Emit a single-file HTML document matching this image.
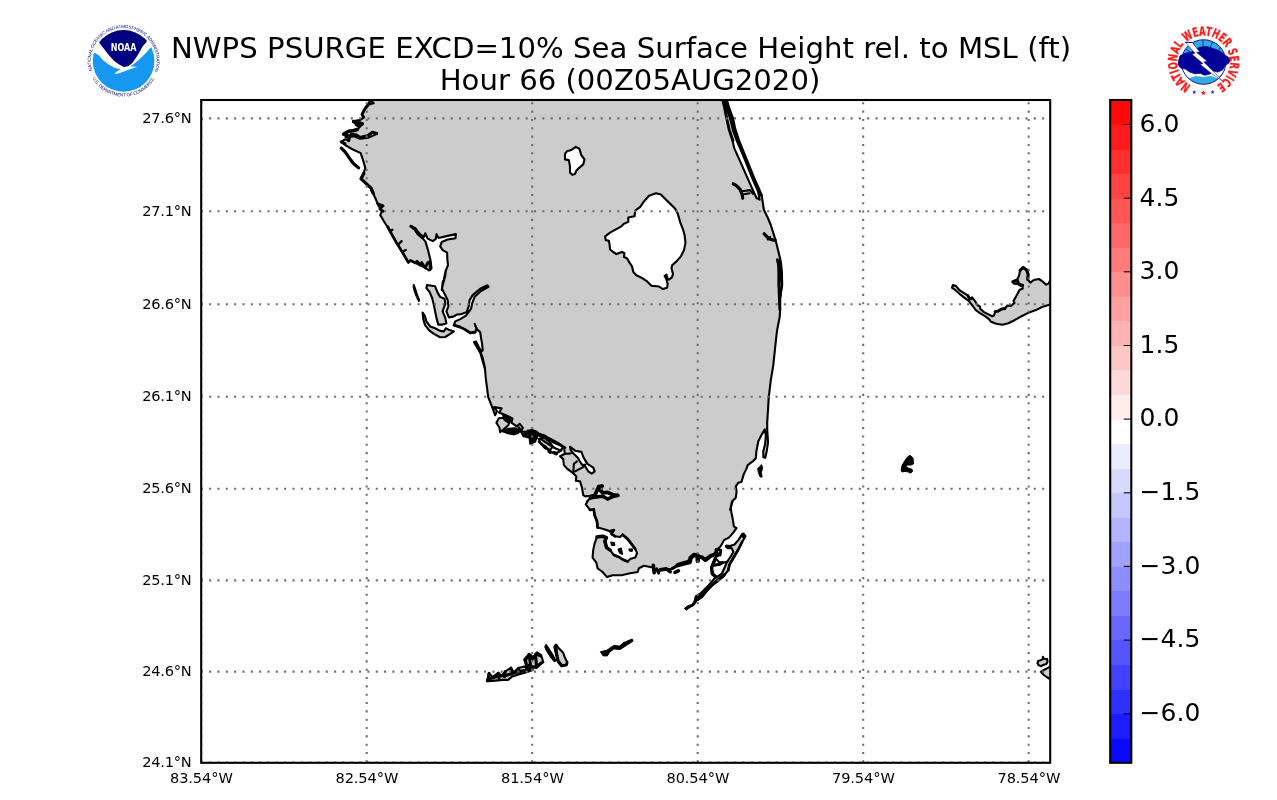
<!DOCTYPE html>
<html><head><meta charset="utf-8"><title>NWPS PSURGE EXCD=10% Sea Surface Height</title>
<style>
html,body{margin:0;padding:0;background:#fff;}
body{width:1277px;height:800px;overflow:hidden;position:relative;font-family:"DejaVu Sans","Liberation Sans",sans-serif;}
svg{position:absolute;left:0;top:0;display:block;will-change:transform;transform:translateZ(0)}
text{font-family:"DejaVu Sans","Liberation Sans",sans-serif;fill:#000}
.t{font-size:29.17px;text-anchor:middle}
.yl{font-size:14.58px;text-anchor:end}
.xl{font-size:14.58px;text-anchor:middle}
.cl{font-size:25px;text-anchor:start}
.g{stroke:#6e6e6e;stroke-width:2.08;stroke-dasharray:2.08 6.25;fill:none}
</style></head><body>
<svg width="1277" height="800" viewBox="0 0 1277 800">
<rect x="0" y="0" width="1277" height="800" fill="#fff"/>
<g clip-path="url(#axclip)"><path d="M370.1 95.0 370.1 99.3 373.6 103.3 368.9 104.5 364.9 109.3 362.0 114.3 364.1 117.4 360.3 119.9 353.2 121.2 356.3 124.9 362.6 123.7 357.6 129.3 350.1 130.8 342.8 134.3 349.4 135.6 356.3 135.2 360.1 137.6 367.6 135.8 372.6 132.1 377.0 133.5 373.2 135.6 368.2 137.8 360.1 138.8 353.8 136.2 349.8 137.1 349.1 140.9 345.1 139.3 341.0 141.9 345.1 145.0 351.3 148.7 360.7 153.1 363.2 160.6 365.4 168.2 363.2 173.8 360.7 178.8 365.7 183.2 371.4 188.2 374.1 194.5 371.3 190.6 375.1 197.5 378.8 206.3 382.0 210.7 380.3 215.1 383.9 221.3 390.1 231.3 396.4 242.6 402.6 252.6 408.3 262.4 410.4 260.4 415.2 262.9 420.2 265.2 425.2 267.9 429.0 270.4 431.5 268.3 430.5 260.2 428.0 250.1 425.5 241.6 422.7 238.4 417.7 233.9 414.2 229.1 410.9 226.3 415.2 228.2 420.2 234.5 424.2 236.6 425.2 233.2 427.7 238.6 432.7 241.1 435.8 238.9 436.5 234.1 438.4 237.9 446.5 236.1 455.9 234.1 455.5 238.2 447.8 239.5 441.7 242.0 440.2 246.4 442.7 250.1 447.1 252.6 447.4 260.2 448.0 265.2 446.0 270.2 444.7 277.7 442.7 285.2 441.7 290.0 445.8 270.0 445.2 276.3 442.6 282.5 442.0 288.8 445.2 295.1 447.7 300.1 448.4 306.3 446.4 311.3 448.9 317.4 453.3 316.6 457.1 314.5 461.4 314.1 466.5 312.3 468.7 306.3 469.6 300.1 472.7 295.1 480.2 288.8 487.5 285.3 488.5 286.8 481.0 291.0 474.6 296.8 472.2 303.3 471.1 308.6 467.7 313.4 466.0 315.6 460.2 319.1 455.2 321.4 453.9 325.1 460.2 327.1 465.2 329.6 470.2 332.9 475.2 332.1 476.5 328.9 474.7 323.9 477.2 329.6 480.2 332.1 481.0 337.7 482.1 343.9 482.7 350.2 481.5 351.4 479.0 347.7 476.0 341.4 474.0 342.2 476.5 346.4 480.2 352.7 483.4 361.5 485.2 370.0 479.5 350.0 482.6 357.5 484.9 367.5 485.7 377.6 487.0 387.6 488.2 397.0 491.4 405.1 495.1 415.2 497.0 411.4 494.1 407.1 501.6 408.4 499.1 412.6 505.8 415.2 512.4 418.4 511.4 422.7 516.7 426.4 519.7 423.9 522.9 427.9 520.4 431.7 527.7 431.7 531.5 429.7 536.7 431.7 540.2 436.5 544.2 435.2 550.5 439.6 558.0 443.3 565.3 447.7 527.5 430.6 535.0 431.9 542.6 435.0 550.1 438.8 557.6 442.6 563.9 446.9 564.9 453.8 560.1 456.3 563.2 459.1 563.9 465.1 567.6 469.1 573.2 473.2 576.4 476.4 575.8 480.8 580.1 481.4 582.0 487.7 583.3 495.2 585.2 496.4 590.2 495.8 595.2 494.5 597.1 490.2 598.3 486.4 602.1 485.8 600.2 490.2 602.7 492.7 607.7 492.0 612.7 494.5 617.7 495.4 612.7 497.1 607.7 499.6 602.7 496.4 597.7 497.1 590.2 498.3 587.0 501.4 588.2 500.0 585.7 504.4 590.1 510.0 593.8 509.4 594.5 515.0 597.0 521.3 597.6 527.6 602.6 528.8 610.1 531.3 613.9 530.1 611.4 533.8 615.1 536.3 620.1 537.0 622.6 534.5 627.7 538.8 631.4 543.9 635.2 548.9 637.1 553.2 635.2 557.6 630.2 558.9 627.7 561.4 622.6 559.5 618.9 557.0 613.9 555.1 610.1 550.1 606.4 547.6 604.5 541.3 606.4 537.6 602.6 536.3 597.0 537.0 594.5 543.9 593.2 550.1 592.6 557.6 596.3 562.6 597.6 568.3 602.6 572.0 607.0 577.1 612.6 575.2 621.4 575.2 630.2 573.3 637.7 572.0 638.9 568.3 643.9 565.8 650.2 567.0 653.7 567.7 655.2 570.2 660.2 569.9 666.5 569.2 671.5 568.7 677.8 565.2 685.3 563.0 690.3 558.9 694.1 554.9 697.8 555.8 701.6 557.0 705.3 558.9 710.4 555.8 715.1 553.9 715.8 549.5 718.9 548.2 721.4 545.1 723.9 540.1 728.9 537.6 733.3 532.6 736.4 528.2 733.9 526.3 732.7 518.8 731.4 512.5 730.8 507.5 732.7 501.3 730.1 510.0 732.0 501.5 735.8 497.7 736.6 491.4 735.8 486.4 738.3 482.7 741.4 482.0 743.9 473.9 746.4 468.9 747.7 465.1 752.7 461.4 755.8 458.2 756.4 451.3 758.3 441.3 761.4 435.1 764.9 429.4 765.8 435.1 765.2 443.8 763.3 451.3 763.3 457.0 765.2 457.9 766.7 451.3 768.0 442.6 767.2 428.8 767.2 422.5 768.0 410.0 768.0 410.0 768.7 397.7 770.8 380.2 773.3 365.1 774.6 352.6 775.8 341.3 777.1 330.0 779.6 317.5 780.2 310.0 780.2 310.0 780.2 297.7 782.2 285.2 781.9 272.6 781.0 262.6 779.0 253.9 776.5 243.8 774.0 235.1 770.8 225.0 767.7 217.5 763.9 210.0 761.7 195.7 758.0 188.2 753.0 176.9 748.0 164.4 742.9 151.9 737.9 139.3 734.2 128.1 732.3 118.0 728.5 108.0 726.0 99.3 726.0 95.0Z" fill="#ccc" stroke="#000" stroke-width="2.1" stroke-linejoin="round"/>
<path d="M427.0 285.0 435.1 286.3 437.6 292.6 440.1 296.9 444.5 298.8 445.4 303.8 443.9 307.6 442.6 311.3 445.2 317.6 446.4 323.2 442.6 324.6 438.3 324.6 436.4 317.6 435.1 311.3 433.9 305.1 432.0 297.6 429.5 291.9 426.4 288.2Z" fill="#ccc" stroke="#000" stroke-width="2.1" stroke-linejoin="round"/>
<path d="M413.8 284.0 415.3 287.5 417.2 293.8 419.7 300.1 418.8 301.8 416.6 297.6 414.2 291.3 413.0 286.3Z" fill="#000" stroke="#000" stroke-width="1.0" stroke-linejoin="round"/>
<path d="M422.6 312.6 425.1 316.4 426.4 321.4 430.1 326.4 435.1 328.3 440.1 330.9 443.9 331.4 445.8 328.3 449.5 330.1 453.9 331.4 450.2 333.9 445.2 337.0 440.1 337.2 433.9 333.9 428.9 330.1 425.1 325.1 423.2 318.9Z" fill="#ccc" stroke="#000" stroke-width="2.1" stroke-linejoin="round"/>
<path d="M498.9 418.3 505.2 417.7 510.2 420.2 508.3 425.2 502.6 430.2 500.1 432.1 499.5 427.7 496.4 422.7Z" fill="#ccc" stroke="#000" stroke-width="2.1" stroke-linejoin="round"/>
<path d="M501.4 431.4 507.7 428.3 515.2 427.7 520.2 430.2 518.9 433.3 513.9 434.9 507.7 433.7Z" fill="#000" stroke="#000" stroke-width="1.0" stroke-linejoin="round"/>
<path d="M502.6 415.2 508.9 416.4 511.4 421.4 507.7 422.7 503.9 420.2Z" fill="#000" stroke="#000" stroke-width="1.0" stroke-linejoin="round"/>
<path d="M522.7 433.9 527.7 432.7 532.7 433.3 537.1 435.2 535.2 441.5 530.2 443.7 529.6 437.7 525.2 436.5Z" fill="#ccc" stroke="#000" stroke-width="2.1" stroke-linejoin="round"/>
<path d="M539.0 439.0 544.0 437.7 549.0 441.5 552.8 446.5 550.3 450.0 545.2 447.7 540.2 443.3Z" fill="#ccc" stroke="#000" stroke-width="2.1" stroke-linejoin="round"/>
<path d="M526.9 431.0 536.3 432.5 537.5 438.8 532.5 443.2 529.8 438.8 527.5 435.0Z" fill="#000" stroke="#000" stroke-width="1.0" stroke-linejoin="round"/>
<path d="M610.7 542.0 614.5 542.6 614.9 545.4 611.6 545.7Z" fill="#000" stroke="#000" stroke-width="1.0" stroke-linejoin="round"/>
<path d="M617.9 549.1 621.4 547.9 622.6 554.5 619.5 553.2Z" fill="#000" stroke="#000" stroke-width="1.0" stroke-linejoin="round"/>
<path d="M628.9 548.9 632.7 548.9 632.2 551.4 629.3 551.1Z" fill="#000" stroke="#000" stroke-width="1.0" stroke-linejoin="round"/>
<path d="M743.3 533.6 745.5 536.3 742.1 542.0 738.3 549.5 733.9 557.0 729.5 564.5 728.3 570.2 723.3 576.7 718.3 580.8 713.2 584.6 707.0 590.8 702.0 597.1 697.6 600.0 695.7 596.5 700.7 593.3 707.0 587.1 712.0 581.4 715.1 577.7 718.9 575.8 722.0 573.3 724.5 567.7 727.0 562.0 730.8 556.4 733.3 552.0 731.7 548.2 727.7 548.2 726.4 545.7 730.2 546.1 734.5 544.5 738.3 540.1 740.8 536.3Z" fill="#ccc" stroke="#000" stroke-width="2.1" stroke-linejoin="round"/>
<path d="M761.4 464.5 762.7 467.6 761.4 472.6 762.1 477.0 760.2 477.0 758.3 472.6 757.7 468.3 760.2 466.4Z" fill="#000" stroke="#000" stroke-width="1.0" stroke-linejoin="round"/>
<path d="M1055.2 279.5 1050.1 280.5 1048.6 283.6 1046.1 284.6 1042.0 281.0 1038.9 279.0 1033.8 280.0 1030.3 282.6 1027.7 279.5 1028.2 274.4 1026.7 269.9 1023.1 267.3 1020.1 270.4 1019.1 275.5 1017.0 280.0 1013.0 281.6 1014.0 283.6 1018.6 284.1 1020.1 285.6 1022.6 285.1 1022.6 288.7 1019.6 289.7 1017.5 293.8 1015.0 298.4 1013.5 300.9 1014.5 302.9 1010.9 306.0 1007.4 305.5 1004.8 308.5 1001.3 309.0 998.2 311.1 995.2 311.6 994.1 315.2 992.1 316.2 988.0 314.1 984.0 312.1 980.4 309.0 979.9 306.5 977.3 305.0 974.8 300.9 972.2 297.8 969.7 298.9 967.7 295.3 963.6 292.8 959.5 290.2 956.0 286.1 952.9 285.1 951.9 287.7 955.5 290.2 959.5 293.8 964.6 297.8 968.7 300.9 972.8 306.0 975.8 310.1 979.9 313.1 985.0 316.2 989.0 319.2 991.1 321.8 996.2 323.8 1002.3 324.8 1008.4 323.3 1014.5 320.2 1021.6 316.2 1027.7 313.1 1035.9 310.1 1042.0 307.0 1050.1 304.5 1055.2 303.4Z" fill="#ccc" stroke="#000" stroke-width="2.1" stroke-linejoin="round"/>
<path d="M910.0 455.3 913.0 458.1 913.6 463.8 911.2 465.0 907.5 465.1 905.8 466.2 908.1 468.0 911.9 469.2 912.6 471.2 910.6 473.2 908.1 471.9 905.0 471.4 902.0 472.0 901.1 470.0 902.0 465.6 904.5 461.2 907.0 457.5Z" fill="#000" stroke="#000" stroke-width="1.0" stroke-linejoin="round"/>
<path d="M1043.0 656.8 1043.8 658.8 1047.2 659.1 1047.5 661.9 1046.2 664.1 1043.1 665.0 1041.2 666.2 1038.8 665.3 1037.5 663.4 1038.1 660.9 1040.6 660.3 1042.5 659.4Z" fill="#ccc" stroke="#000" stroke-width="2.1" stroke-linejoin="round"/>
<path d="M1052.5 665.3 1047.5 668.1 1043.8 670.0 1040.9 671.9 1043.8 675.0 1047.5 677.5 1052.5 680.6Z" fill="#ccc" stroke="#000" stroke-width="2.1" stroke-linejoin="round"/>
<path d="M486.9 681.3 489.0 672.9 492.6 677.1 498.2 672.9 501.7 675.7 505.2 671.4 510.9 667.9 513.7 672.2 518.6 667.9 524.3 666.5 527.8 668.6 532.0 666.5 532.7 670.0 526.4 672.2 519.3 674.3 512.3 676.4 508.1 679.9 502.4 679.9 495.4 680.6Z" fill="#ccc" stroke="#000" stroke-width="2.1" stroke-linejoin="round"/>
<path d="M524.3 659.5 529.2 653.8 533.4 657.4 537.0 652.4 541.2 655.2 543.3 662.3 540.5 663.7 536.2 667.9 532.0 666.5 526.4 665.1Z" fill="#ccc" stroke="#000" stroke-width="2.1" stroke-linejoin="round"/>
<path d="M546.1 644.2 548.9 648.2 552.5 653.8 556.3 660.9 554.0 661.7 549.6 655.9 546.1 650.3 544.7 646.8Z" fill="#000" stroke="#000" stroke-width="1.0" stroke-linejoin="round"/>
<path d="M556.0 644.7 558.8 648.2 563.0 652.4 565.1 658.1 567.3 662.3 566.6 665.1 561.6 666.2 558.1 662.3 556.7 656.6 555.3 651.0 554.3 646.8Z" fill="#ccc" stroke="#000" stroke-width="2.1" stroke-linejoin="round"/>
<path d="M600.4 651.7 606.7 650.3 613.8 645.4 619.4 646.1 623.6 642.6 632.1 639.0 633.1 641.1 626.5 645.4 620.1 649.6 613.8 648.9 609.5 652.4 607.4 655.9 603.2 655.9Z" fill="#000" stroke="#000" stroke-width="1.0" stroke-linejoin="round"/>
<path d="M697.5 595.0 701.2 593.1 700.6 597.5 697.5 600.0 695.6 603.1 693.8 605.6 690.0 607.5 686.2 610.2 684.5 608.2 688.1 605.6 691.9 604.4 694.0 601.2 695.2 596.9Z" fill="#000" stroke="#000" stroke-width="1.0" stroke-linejoin="round"/>
<path d="M570.1 446.9 575.1 450.7 581.4 451.9 583.6 457.6 587.4 463.9 593.3 467.6 594.7 471.4 591.7 473.6 588.4 471.5 585.3 466.5 581.5 464.0 577.8 457.7 572.7 452.7 570.7 450.1Z" fill="#fff" stroke="#000" stroke-width="2.1" stroke-linejoin="round"/>
<path d="M722.4 99.9 724.3 108.0 726.2 118.0 728.7 129.3 732.4 140.6 734.2 148.1 738.7 158.1 743.7 169.4 749.2 181.9 753.7 192.0 756.5 198.0 759.6 199.7 758.0 191.3 752.7 179.4 747.7 166.9 742.7 154.4 737.2 141.9 732.9 130.6 730.4 119.9 727.0 109.3 724.4 99.9Z" fill="#fff" stroke="#000" stroke-width="2.1" stroke-linejoin="round"/>
<path d="M575.7 146.9 579.4 148.8 581.3 155.1 584.5 159.4 583.2 164.5 579.4 167.6 576.3 170.7 575.1 173.9 572.6 174.9 570.0 172.6 570.0 166.3 568.8 160.1 565.0 159.4 565.0 153.8 566.9 151.3 571.3 150.0Z" fill="#fff" stroke="#000" stroke-width="2.1" stroke-linejoin="round"/>
<path d="M640.2 206.9 635.2 210.6 634.5 216.3 628.3 217.5 628.3 221.9 623.9 223.8 621.4 226.3 614.5 230.1 610.1 232.6 605.1 236.3 605.7 240.1 608.8 240.7 609.5 243.9 610.1 249.5 613.2 252.0 616.4 254.1 622.0 252.0 624.5 253.2 623.9 257.0 627.0 258.3 629.5 262.6 632.0 266.4 633.3 272.0 636.4 275.2 641.4 277.7 646.4 280.8 651.4 285.8 659.0 286.5 662.7 289.0 667.1 287.7 667.7 283.9 666.2 278.9 664.6 275.8 666.5 274.5 667.5 278.3 669.0 279.6 672.1 277.1 673.0 273.9 671.5 268.3 672.1 265.2 676.5 261.4 680.9 256.4 684.0 250.1 685.5 242.6 684.6 235.1 682.8 228.8 680.3 222.6 677.8 213.8 675.2 208.8 670.2 203.8 665.3 198.9 660.9 194.5 655.9 193.3 649.0 195.8 644.0 201.4Z" fill="#fff" stroke="#000" stroke-width="2.1" stroke-linejoin="round"/>
<path d="M573.2 473.2 573.9 463.9 577.0 461.3" fill="none" stroke="#000" stroke-width="2.1" stroke-linejoin="round" stroke-linecap="round"/>
<path d="M575.1 471.4 582.6 467.4 585.2 464.5" fill="none" stroke="#000" stroke-width="2.1" stroke-linejoin="round" stroke-linecap="round"/>
<path d="M564.9 453.8 570.1 453.6 572.6 452.6" fill="none" stroke="#000" stroke-width="2.1" stroke-linejoin="round" stroke-linecap="round"/>
<path d="M715.1 557.6 718.9 562.0 723.9 562.6 727.7 561.4" fill="none" stroke="#000" stroke-width="2.1" stroke-linejoin="round" stroke-linecap="round"/>
<path d="M715.1 558.9 711.4 567.7 712.0 573.9 715.8 576.7" fill="none" stroke="#000" stroke-width="2.1" stroke-linejoin="round" stroke-linecap="round"/>
<path d="M713.2 565.2 720.1 564.2 722.6 562.6" fill="none" stroke="#000" stroke-width="2.1" stroke-linejoin="round" stroke-linecap="round"/>
<path d="M715.8 549.5 718.9 555.1 715.1 557.6" fill="none" stroke="#000" stroke-width="2.1" stroke-linejoin="round" stroke-linecap="round"/>
<path d="M775.2 240.1 772.1 239.8 769.0 238.8 764.2 233.8" fill="none" stroke="#000" stroke-width="2.1" stroke-linejoin="round" stroke-linecap="round"/>
<path d="M770.2 236.9 767.7 239.4" fill="none" stroke="#000" stroke-width="2.1" stroke-linejoin="round" stroke-linecap="round"/>
<path d="M777.1 259.5 778.4 266.4 778.5 272.6 778.5 285.2 779.0 297.7 779.6 310.0" fill="none" stroke="#000" stroke-width="2.1" stroke-linejoin="round" stroke-linecap="round"/>
<path d="M779.6 260.1 780.2 270.1 780.2 280.2" fill="none" stroke="#000" stroke-width="2.1" stroke-linejoin="round" stroke-linecap="round"/>
<path d="M733.3 183.8 736.4 185.7 740.2 189.5 742.1 194.5 742.7 198.0" fill="none" stroke="#000" stroke-width="2.1" stroke-linejoin="round" stroke-linecap="round"/>
<path d="M742.1 191.3 750.2 190.1 753.0 193.8" fill="none" stroke="#000" stroke-width="2.1" stroke-linejoin="round" stroke-linecap="round"/>
<path d="M742.7 194.5 749.6 193.2" fill="none" stroke="#000" stroke-width="2.1" stroke-linejoin="round" stroke-linecap="round"/>
<path d="M518.7 427.5 521.3 431.3 523.8 436.0 527.5 433.8" fill="none" stroke="#000" stroke-width="2.7" stroke-linejoin="round" stroke-linecap="round"/>
<path d="M538.8 441.6 545.1 446.9 550.1 451.6 555.7 453.6 560.7 450.7 563.2 446.9" fill="none" stroke="#000" stroke-width="2.3" stroke-linejoin="round" stroke-linecap="round"/>
<path d="M540.7 438.8 547.6 443.6 555.1 448.2 561.3 450.7" fill="none" stroke="#000" stroke-width="2.2" stroke-linejoin="round" stroke-linecap="round"/>
<path d="M544.4 446.6 545.7 447.8" fill="none" stroke="#000" stroke-width="3.6" stroke-linejoin="round" stroke-linecap="round"/>
<path d="M549.1 451.1 550.3 452.1" fill="none" stroke="#000" stroke-width="3.6" stroke-linejoin="round" stroke-linecap="round"/>
<path d="M554.5 452.8 556.3 453.6" fill="none" stroke="#000" stroke-width="3.6" stroke-linejoin="round" stroke-linecap="round"/>
<path d="M370.7 100.8 368.2 104.3 364.5 109.3 362.0 114.3 363.2 116.8" fill="none" stroke="#000" stroke-width="2.9" stroke-linejoin="round" stroke-linecap="round"/>
<path d="M353.6 121.6 357.6 122.4 362.3 123.7 359.1 125.8 356.6 124.6" fill="none" stroke="#000" stroke-width="3.6" stroke-linejoin="round" stroke-linecap="round"/>
<path d="M343.8 134.1 348.6 131.3 353.2 130.8 357.3 129.6" fill="none" stroke="#000" stroke-width="3.6" stroke-linejoin="round" stroke-linecap="round"/>
<path d="M351.3 134.3 356.6 135.2 360.1 137.6 367.6 135.8 372.6 132.3 376.6 133.5" fill="none" stroke="#000" stroke-width="3.2" stroke-linejoin="round" stroke-linecap="round"/>
<path d="M341.3 148.1 345.1 151.9 349.4 158.1 353.2 163.2 358.6 167.9" fill="none" stroke="#000" stroke-width="3.2" stroke-linejoin="round" stroke-linecap="round"/>
<path d="M363.9 173.2 361.1 178.8 365.7 183.2 371.1 188.2 372.9 192.6" fill="none" stroke="#000" stroke-width="3.2" stroke-linejoin="round" stroke-linecap="round"/>
<path d="M345.7 136.8 349.1 138.1 348.6 140.9" fill="none" stroke="#000" stroke-width="2.7" stroke-linejoin="round" stroke-linecap="round"/>
<path d="M341.0 141.9 345.1 143.4" fill="none" stroke="#000" stroke-width="2.7" stroke-linejoin="round" stroke-linecap="round"/>
<path d="M377.6 203.8 383.2 205.7 379.8 208.8 383.2 211.3" fill="none" stroke="#000" stroke-width="2.7" stroke-linejoin="round" stroke-linecap="round"/>
<path d="M387.6 226.3 390.1 231.3 396.4 242.6 402.6 252.6 408.3 262.4" fill="none" stroke="#000" stroke-width="2.7" stroke-linejoin="round" stroke-linecap="round"/>
<path d="M390.1 231.3 392.4 229.8" fill="none" stroke="#000" stroke-width="2.3" stroke-linejoin="round" stroke-linecap="round"/>
<path d="M398.9 243.9 401.6 241.1" fill="none" stroke="#000" stroke-width="2.3" stroke-linejoin="round" stroke-linecap="round"/>
<path d="M402.6 252.0 405.8 249.9" fill="none" stroke="#000" stroke-width="2.3" stroke-linejoin="round" stroke-linecap="round"/>
<path d="M408.7 262.0 410.4 260.4 415.2 262.9 417.1 261.2 420.2 265.2 421.7 262.4 425.2 267.9 427.7 262.7 429.7 261.7 430.2 269.7" fill="none" stroke="#000" stroke-width="2.7" stroke-linejoin="round" stroke-linecap="round"/>
<path d="M410.9 226.3 415.2 229.1 418.3 234.1 422.7 237.6" fill="none" stroke="#000" stroke-width="3.1" stroke-linejoin="round" stroke-linecap="round"/>
<path d="M653.3 565.4 654.2 572.7" fill="none" stroke="#000" stroke-width="3.6" stroke-linejoin="round" stroke-linecap="round"/>
<path d="M656.7 568.9 658.7 573.2" fill="none" stroke="#000" stroke-width="3.1" stroke-linejoin="round" stroke-linecap="round"/>
<path d="M660.2 569.9 666.5 568.9 670.3 571.7" fill="none" stroke="#000" stroke-width="3.6" stroke-linejoin="round" stroke-linecap="round"/>
<path d="M672.1 568.7 677.8 565.2" fill="none" stroke="#000" stroke-width="3.1" stroke-linejoin="round" stroke-linecap="round"/>
<path d="M675.0 572.4 678.4 570.9" fill="none" stroke="#000" stroke-width="3.6" stroke-linejoin="round" stroke-linecap="round"/>
<path d="M677.8 565.2 685.3 563.0 689.7 562.0 690.6 557.9 694.1 554.9 697.6 555.4 697.8 560.8" fill="none" stroke="#000" stroke-width="4.5" stroke-linejoin="round" stroke-linecap="round"/>
<path d="M697.8 556.4 702.2 557.4 705.3 560.1 710.4 556.1 715.4 554.1" fill="none" stroke="#000" stroke-width="4.0" stroke-linejoin="round" stroke-linecap="round"/>
<path d="M590.1 510.0 593.8 509.4 594.5 515.0 597.0 521.3 597.6 527.6" fill="none" stroke="#000" stroke-width="2.7" stroke-linejoin="round" stroke-linecap="round"/>
<path d="M610.1 531.3 613.9 530.1 611.4 533.8 615.1 536.3" fill="none" stroke="#000" stroke-width="2.7" stroke-linejoin="round" stroke-linecap="round"/>
<path d="M597.0 537.0 602.6 536.3 606.4 537.6 604.9 541.3 606.6 547.6 610.1 550.1" fill="none" stroke="#000" stroke-width="3.6" stroke-linejoin="round" stroke-linecap="round"/>
<path d="M622.6 534.8 627.7 539.1 631.4 543.9 635.2 548.9" fill="none" stroke="#000" stroke-width="2.7" stroke-linejoin="round" stroke-linecap="round"/>
<path d="M613.9 555.1 618.9 557.0 622.6 559.5 627.7 561.4" fill="none" stroke="#000" stroke-width="2.7" stroke-linejoin="round" stroke-linecap="round"/>
<path d="M595.2 494.8 597.1 490.2 598.7 486.7 602.1 486.0 600.2 490.2 602.7 492.9 607.7 492.4 612.7 494.8 617.7 495.4" fill="none" stroke="#000" stroke-width="3.8" stroke-linejoin="round" stroke-linecap="round"/>
<path d="M617.7 495.4 612.7 496.7 607.7 498.9 602.9 496.2 597.7 496.7 590.2 498.2" fill="none" stroke="#000" stroke-width="3.4" stroke-linejoin="round" stroke-linecap="round"/>
<path d="M453.9 325.1 460.2 327.1 465.2 329.6 470.2 332.9 475.2 332.1" fill="none" stroke="#000" stroke-width="2.7" stroke-linejoin="round" stroke-linecap="round"/>
<path d="M724.5 574.5 718.9 578.9 713.2 583.7 707.0 590.0 702.0 595.8 697.6 599.2" fill="none" stroke="#000" stroke-width="2.9" stroke-linejoin="round" stroke-linecap="round"/>
<path d="M742.7 535.1 743.9 536.1" fill="none" stroke="#000" stroke-width="4.5" stroke-linejoin="round" stroke-linecap="round"/>
<path d="M715.1 558.9 711.6 567.7 712.4 573.9 715.8 576.7" fill="none" stroke="#000" stroke-width="3.4" stroke-linejoin="round" stroke-linecap="round"/>
<path d="M713.2 565.2 720.1 564.2 722.6 562.6" fill="none" stroke="#000" stroke-width="2.9" stroke-linejoin="round" stroke-linecap="round"/>
<path d="M716.4 549.5 720.8 550.1 720.1 555.1 716.4 555.1" fill="none" stroke="#000" stroke-width="2.9" stroke-linejoin="round" stroke-linecap="round"/>
<path d="M742.1 542.0 738.3 549.5 733.9 557.0 729.5 564.5 728.3 570.2" fill="none" stroke="#000" stroke-width="2.7" stroke-linejoin="round" stroke-linecap="round"/>
<path d="M726.4 546.4 730.2 546.6" fill="none" stroke="#000" stroke-width="3.1" stroke-linejoin="round" stroke-linecap="round"/>
<path d="M726.4 99.9 728.9 108.6 732.7 118.7 734.7 128.7 738.4 140.0 743.4 152.5 748.5 165.0 753.5 177.6 758.5 188.8 761.2 195.1" fill="none" stroke="#000" stroke-width="3.1" stroke-linejoin="round" stroke-linecap="round"/>
<path d="M733.3 183.8 736.4 185.7 740.2 189.5 742.1 194.5 742.7 198.2" fill="none" stroke="#000" stroke-width="3.2" stroke-linejoin="round" stroke-linecap="round"/>
<path d="M723.3 100.5 725.2 108.0 727.0 118.0 729.5 129.3 733.3 140.6" fill="none" stroke="#000" stroke-width="2.3" stroke-linejoin="round" stroke-linecap="round"/>
<path d="M775.2 240.1 772.1 239.8 769.0 238.8 764.2 233.8" fill="none" stroke="#000" stroke-width="3.2" stroke-linejoin="round" stroke-linecap="round"/>
<path d="M777.5 259.5 778.7 266.4 779.0 272.6 779.0 285.2 779.5 297.7 780.0 310.0" fill="none" stroke="#000" stroke-width="2.3" stroke-linejoin="round" stroke-linecap="round"/>
<path d="M780.2 262.6 781.2 272.6 781.5 285.2 780.2 297.7" fill="none" stroke="#000" stroke-width="2.2" stroke-linejoin="round" stroke-linecap="round"/>
<path d="M488.3 679.2 498.2 676.1 506.6 675.3 512.3 673.3 519.3 671.6 526.4 670.2 532.0 668.6" fill="none" stroke="#000" stroke-width="3.1" stroke-linejoin="round" stroke-linecap="round"/>
<path d="M489.0 673.6 488.3 680.6" fill="none" stroke="#000" stroke-width="3.1" stroke-linejoin="round" stroke-linecap="round"/>
<path d="M498.2 673.3 498.9 678.1" fill="none" stroke="#000" stroke-width="3.1" stroke-linejoin="round" stroke-linecap="round"/>
<path d="M505.2 671.9 504.5 676.7" fill="none" stroke="#000" stroke-width="3.1" stroke-linejoin="round" stroke-linecap="round"/>
<path d="M510.9 668.2 512.3 673.8" fill="none" stroke="#000" stroke-width="3.1" stroke-linejoin="round" stroke-linecap="round"/>
<path d="M518.6 668.2 519.3 672.4" fill="none" stroke="#000" stroke-width="3.1" stroke-linejoin="round" stroke-linecap="round"/>
<path d="M526.4 666.8 527.1 671.0" fill="none" stroke="#000" stroke-width="3.1" stroke-linejoin="round" stroke-linecap="round"/>
<path d="M525.0 660.2 529.2 655.2 532.7 658.8 536.2 653.8 540.5 655.9" fill="none" stroke="#000" stroke-width="3.1" stroke-linejoin="round" stroke-linecap="round"/>
<path d="M526.4 665.1 532.0 666.5 536.2 667.2 541.2 663.0" fill="none" stroke="#000" stroke-width="3.1" stroke-linejoin="round" stroke-linecap="round"/>
<path d="M529.2 655.2 530.6 665.4" fill="none" stroke="#000" stroke-width="3.1" stroke-linejoin="round" stroke-linecap="round"/>
<path d="M535.5 654.5 536.5 666.8" fill="none" stroke="#000" stroke-width="3.1" stroke-linejoin="round" stroke-linecap="round"/>
<path d="M525.7 660.9 526.4 665.1" fill="none" stroke="#000" stroke-width="3.1" stroke-linejoin="round" stroke-linecap="round"/>
<path d="M556.0 645.4 556.3 652.4 558.1 660.9 561.6 665.4" fill="none" stroke="#000" stroke-width="3.1" stroke-linejoin="round" stroke-linecap="round"/>
<path d="M561.6 665.8 566.6 664.8 567.0 662.3" fill="none" stroke="#000" stroke-width="2.7" stroke-linejoin="round" stroke-linecap="round"/>
<path d="M1013.0 281.8 1017.0 280.1 1018.8 284.2 1022.4 285.2" fill="none" stroke="#000" stroke-width="3.2" stroke-linejoin="round" stroke-linecap="round"/>
<path d="M1020.1 270.4 1023.1 267.5 1026.7 270.0 1028.2 274.4 1027.7 279.3" fill="none" stroke="#000" stroke-width="3.1" stroke-linejoin="round" stroke-linecap="round"/>
<path d="M995.2 311.6 998.2 311.1 1001.3 309.2 1004.8 308.5" fill="none" stroke="#000" stroke-width="2.9" stroke-linejoin="round" stroke-linecap="round"/>
<path d="M967.7 295.3 969.9 299.1 972.2 297.8" fill="none" stroke="#000" stroke-width="2.7" stroke-linejoin="round" stroke-linecap="round"/></g>
<defs><clipPath id="axclip"><rect x="201.2" y="100.0" width="849.0" height="662.8"/></clipPath></defs>
<g clip-path="url(#axclip)"><path class="g" d="M200.8 118.4H1050.2"/><path class="g" d="M200.8 211.3H1050.2"/><path class="g" d="M200.8 304.2H1050.2"/><path class="g" d="M200.8 396.8H1050.2"/><path class="g" d="M200.8 488.8H1050.2"/><path class="g" d="M200.8 580.4H1050.2"/><path class="g" d="M200.8 671.6H1050.2"/><path class="g" d="M200.8 762.6H1050.2"/><path class="g" d="M201.2 762.4V100.0"/><path class="g" d="M366.7 762.4V100.0"/><path class="g" d="M532.2 762.4V100.0"/><path class="g" d="M697.7 762.4V100.0"/><path class="g" d="M863.2 762.4V100.0"/><path class="g" d="M1028.7 762.4V100.0"/></g>
<rect x="201.2" y="100.0" width="849.0" height="662.8" fill="none" stroke="#000" stroke-width="2.1"/>
<text class="yl" x="191.7" y="123.0" textLength="49.5" lengthAdjust="spacing">27.6°N</text><text class="yl" x="191.7" y="215.9" textLength="49.5" lengthAdjust="spacing">27.1°N</text><text class="yl" x="191.7" y="308.8" textLength="49.5" lengthAdjust="spacing">26.6°N</text><text class="yl" x="191.7" y="401.4" textLength="49.5" lengthAdjust="spacing">26.1°N</text><text class="yl" x="191.7" y="493.4" textLength="49.5" lengthAdjust="spacing">25.6°N</text><text class="yl" x="191.7" y="585.0" textLength="49.5" lengthAdjust="spacing">25.1°N</text><text class="yl" x="191.7" y="676.2" textLength="49.5" lengthAdjust="spacing">24.6°N</text><text class="yl" x="191.7" y="767.2" textLength="49.5" lengthAdjust="spacing">24.1°N</text><text class="xl" x="201.4" y="782.8" textLength="62.8" lengthAdjust="spacing">83.54°W</text><text class="xl" x="366.9" y="782.8" textLength="62.8" lengthAdjust="spacing">82.54°W</text><text class="xl" x="532.4" y="782.8" textLength="62.8" lengthAdjust="spacing">81.54°W</text><text class="xl" x="697.9" y="782.8" textLength="62.8" lengthAdjust="spacing">80.54°W</text><text class="xl" x="863.4" y="782.8" textLength="62.8" lengthAdjust="spacing">79.54°W</text><text class="xl" x="1028.9" y="782.8" textLength="62.8" lengthAdjust="spacing">78.54°W</text>
<text class="t" style="text-anchor:start" x="170.9" y="58.3" textLength="900.3" lengthAdjust="spacing">NWPS PSURGE EXCD=10% Sea Surface Height rel. to MSL (ft)</text>
<text class="t" style="text-anchor:start" x="439.7" y="89.6" textLength="380.6" lengthAdjust="spacing">Hour 66 (00Z05AUG2020)</text>
<rect x="1110.2" y="738.25" width="21.1" height="24.95" fill="rgb(9,9,255)" shape-rendering="crispEdges"/><rect x="1110.2" y="713.70" width="21.1" height="24.95" fill="rgb(28,28,255)" shape-rendering="crispEdges"/><rect x="1110.2" y="689.16" width="21.1" height="24.95" fill="rgb(47,47,255)" shape-rendering="crispEdges"/><rect x="1110.2" y="664.61" width="21.1" height="24.95" fill="rgb(66,66,255)" shape-rendering="crispEdges"/><rect x="1110.2" y="640.06" width="21.1" height="24.95" fill="rgb(85,85,255)" shape-rendering="crispEdges"/><rect x="1110.2" y="615.51" width="21.1" height="24.95" fill="rgb(104,104,255)" shape-rendering="crispEdges"/><rect x="1110.2" y="590.96" width="21.1" height="24.95" fill="rgb(123,123,255)" shape-rendering="crispEdges"/><rect x="1110.2" y="566.41" width="21.1" height="24.95" fill="rgb(142,142,255)" shape-rendering="crispEdges"/><rect x="1110.2" y="541.87" width="21.1" height="24.95" fill="rgb(161,161,255)" shape-rendering="crispEdges"/><rect x="1110.2" y="517.32" width="21.1" height="24.95" fill="rgb(179,179,255)" shape-rendering="crispEdges"/><rect x="1110.2" y="492.77" width="21.1" height="24.95" fill="rgb(198,198,255)" shape-rendering="crispEdges"/><rect x="1110.2" y="468.22" width="21.1" height="24.95" fill="rgb(217,217,255)" shape-rendering="crispEdges"/><rect x="1110.2" y="443.67" width="21.1" height="24.95" fill="rgb(236,236,255)" shape-rendering="crispEdges"/><rect x="1110.2" y="419.13" width="21.1" height="24.95" fill="rgb(255,255,255)" shape-rendering="crispEdges"/><rect x="1110.2" y="394.58" width="21.1" height="24.95" fill="rgb(255,236,236)" shape-rendering="crispEdges"/><rect x="1110.2" y="370.03" width="21.1" height="24.95" fill="rgb(255,217,217)" shape-rendering="crispEdges"/><rect x="1110.2" y="345.48" width="21.1" height="24.95" fill="rgb(255,198,198)" shape-rendering="crispEdges"/><rect x="1110.2" y="320.93" width="21.1" height="24.95" fill="rgb(255,179,179)" shape-rendering="crispEdges"/><rect x="1110.2" y="296.39" width="21.1" height="24.95" fill="rgb(255,161,161)" shape-rendering="crispEdges"/><rect x="1110.2" y="271.84" width="21.1" height="24.95" fill="rgb(255,142,142)" shape-rendering="crispEdges"/><rect x="1110.2" y="247.29" width="21.1" height="24.95" fill="rgb(255,123,123)" shape-rendering="crispEdges"/><rect x="1110.2" y="222.74" width="21.1" height="24.95" fill="rgb(255,104,104)" shape-rendering="crispEdges"/><rect x="1110.2" y="198.19" width="21.1" height="24.95" fill="rgb(255,85,85)" shape-rendering="crispEdges"/><rect x="1110.2" y="173.64" width="21.1" height="24.95" fill="rgb(255,66,66)" shape-rendering="crispEdges"/><rect x="1110.2" y="149.10" width="21.1" height="24.95" fill="rgb(255,47,47)" shape-rendering="crispEdges"/><rect x="1110.2" y="124.55" width="21.1" height="24.95" fill="rgb(255,28,28)" shape-rendering="crispEdges"/><rect x="1110.2" y="100.00" width="21.1" height="24.95" fill="rgb(255,9,9)" shape-rendering="crispEdges"/>
<rect x="1110.2" y="100.0" width="21.1" height="662.8" fill="none" stroke="#000" stroke-width="2.1"/>
<path d="M1131.3 124.5h-7.6" stroke="#000" stroke-width="1.04"/><text class="cl" x="1139.6" y="131.8">6.0</text><path d="M1131.3 198.2h-7.6" stroke="#000" stroke-width="1.04"/><text class="cl" x="1139.6" y="205.5">4.5</text><path d="M1131.3 271.8h-7.6" stroke="#000" stroke-width="1.04"/><text class="cl" x="1139.6" y="279.1">3.0</text><path d="M1131.3 345.5h-7.6" stroke="#000" stroke-width="1.04"/><text class="cl" x="1139.6" y="352.8">1.5</text><path d="M1131.3 419.1h-7.6" stroke="#000" stroke-width="1.04"/><text class="cl" x="1139.6" y="426.4">0.0</text><path d="M1131.3 492.8h-7.6" stroke="#000" stroke-width="1.04"/><text class="cl" x="1139.6" y="500.1">−1.5</text><path d="M1131.3 566.4h-7.6" stroke="#000" stroke-width="1.04"/><text class="cl" x="1139.6" y="573.7">−3.0</text><path d="M1131.3 640.1h-7.6" stroke="#000" stroke-width="1.04"/><text class="cl" x="1139.6" y="647.4">−4.5</text><path d="M1131.3 713.7h-7.6" stroke="#000" stroke-width="1.04"/><text class="cl" x="1139.6" y="721.0">−6.0</text><g id="noaa">
<defs><clipPath id="nc"><circle cx="123.6" cy="60.9" r="30.8"/></clipPath>
<path id="ntop" d="M92.23 70.49A32.80 32.80 0 1 1 154.42 72.12"/>
<path id="nbot" d="M92.46 78.16A35.60 35.60 0 0 0 154.74 78.16"/>
</defs>
<circle cx="123.6" cy="60.9" r="30.8" fill="#fff"/>
<g clip-path="url(#nc)">
<path d="M99.5 43.2 103.9 48.7 108.7 54.9 114.2 61.1 119.1 64.6 123.9 67.0 128.0 66.3 132.1 63.2 135.5 58.4 139.0 52.9 142.4 46.7 146.5 41.9 150.0 28.1 95.0 28.1Z" fill="#000080"/>
<path d="M90.9 50.8 95.0 53.0 99.1 55.6 103.2 60.4 108.7 64.6 114.9 68.0 120.6 69.1 117.7 71.1 114.1 73.7 118.4 73.4 125.2 71.1 130.7 69.0 137.1 67.1 133.5 66.6 129.9 66.3 133.5 64.2 139.7 59.1 145.9 52.9 151.4 46.7 156.9 43.2 156.9 96.9 90.9 96.9Z" fill="#1697f0"/>
</g>
<text x="110.7" y="50.8" textLength="25.7" lengthAdjust="spacingAndGlyphs" style="font:bold 10.9px 'DejaVu Sans','Liberation Sans',sans-serif;fill:#fff">NOAA</text>
<text style="font:4.5px 'Liberation Sans','DejaVu Sans',sans-serif;fill:#00008a" textLength="123.2" lengthAdjust="spacing"><textPath href="#ntop" textLength="123.2" lengthAdjust="spacing">NATIONAL OCEANIC AND ATMOSPHERIC ADMINISTRATION</textPath></text>
<text style="font:4.5px 'Liberation Sans','DejaVu Sans',sans-serif;fill:#00008a"><textPath href="#nbot" textLength="74.8" lengthAdjust="spacing">U.S. DEPARTMENT OF COMMERCE</textPath></text>
</g>
<g id="nws">
<defs><clipPath id="wc"><circle cx="1203.6" cy="62.0" r="22.3"/></clipPath>
<path id="wtop" d="M1191.16 85.40A26.50 26.50 0 1 1 1216.04 85.40"/>
</defs>
<circle cx="1203.6" cy="62.0" r="22.3" fill="#36a9e1"/>
<g clip-path="url(#wc)">
<path d="M1180.2 66.8 1228.0 62.5 1225.9 69.9 1222.7 73.1 1217.4 78.2 1211.0 76.0 1203.6 77.1 1196.1 76.0 1188.7 78.2 1183.4 73.1Z" fill="#fff"/>
<path d="M1203.0 39.7L1203.0 47.1" stroke="#00008f" stroke-width="0.7"/>
<path d="M1212.6 41.8L1209.9 48.2" stroke="#00008f" stroke-width="0.7"/>
<path d="M1220.6 47.1L1217.4 51.9" stroke="#00008f" stroke-width="0.7"/>
<path d="M1193.5 42.8L1195.6 49.2" stroke="#00008f" stroke-width="0.7"/>
<path d="M1186.0 49.2L1190.8 52.4" stroke="#00008f" stroke-width="0.7"/>
<path d="M1223.8 51.9L1221.6 55.1" stroke="#00008f" stroke-width="0.7"/>
</g>
<path d="M1178.1 64.6 1178.9 59.3 1180.2 55.6 1185.5 53.2 1191.9 51.9 1195.1 49.8 1199.5 47.2 1206.8 46.6 1213.1 48.5 1219.5 50.8 1224.6 54.9 1229.6 58.0 1229.6 60.9 1228.9 63.0 1225.0 65.7 1222.9 69.7 1217.9 72.1 1213.7 71.0 1209.9 74.0 1204.6 75.3 1200.4 73.3 1195.1 73.8 1189.8 72.1 1185.5 69.1 1180.7 68.0Z" fill="#000099" stroke="#000099" stroke-width="0.8" stroke-linejoin="round"/>
<circle cx="1203.6" cy="62.0" r="22.3" fill="none" stroke="#000099" stroke-width="0.9"/>
<path d="M1185.3 42.3 1192.1 42.5 1199.7 51.7 1196.6 52.5 1207.2 61.2 1203.8 62.0 1217.4 75.3 1222.2 80.8 1213.1 74.7 1200.2 64.4 1202.9 63.6 1191.9 54.2 1194.9 53.2Z" fill="#fff" stroke="#000099" stroke-width="0.5"/>
<path d="M1185.3 42.3L1192.1 42.5" stroke="#000099" stroke-width="0.9"/>
<text style="font:bold 12.6px 'DejaVu Sans Condensed','DejaVu Sans','Liberation Sans',sans-serif;fill:#ff1a1a;stroke:#ff1a1a;stroke-width:0.3"><textPath href="#wtop" textLength="139.6" lengthAdjust="spacingAndGlyphs">NATIONAL WEATHER SERVICE</textPath></text>
<path d="M1194.2 90.1 1194.7 91.6 1196.3 91.6 1195.1 92.5 1195.5 94.0 1194.2 93.1 1192.9 94.0 1193.4 92.5 1192.1 91.6 1193.7 91.6Z" fill="#1a1acc"/>
<path d="M1203.4 90.0 1204.0 92.0 1206.1 92.0 1204.5 93.3 1205.1 95.2 1203.4 94.1 1201.7 95.2 1202.3 93.3 1200.6 92.0 1202.7 92.0Z" fill="#ff1a1a"/>
<path d="M1212.6 90.1 1213.1 91.6 1214.7 91.6 1213.4 92.5 1213.9 94.0 1212.6 93.1 1211.3 94.0 1211.8 92.5 1210.5 91.6 1212.1 91.6Z" fill="#1a1acc"/>
</g>
</svg>
</body></html>
